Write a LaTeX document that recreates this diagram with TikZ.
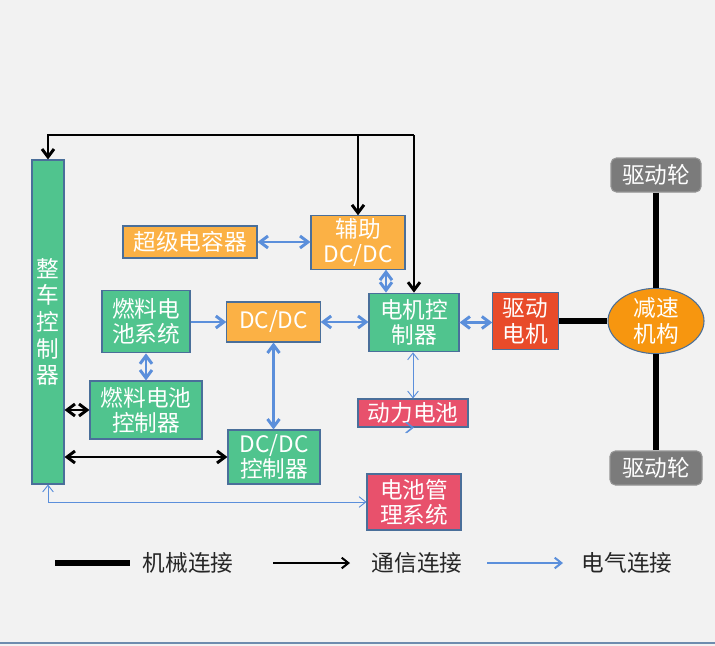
\documentclass[tikz,border=0pt]{standalone}
\usepackage{fontspec}
\setmainfont{Noto Sans CJK SC}
\usepackage{tikz}
\usetikzlibrary{arrows.meta,shapes,positioning,calc}
\definecolor{bgc}{HTML}{F2F2F2}
\definecolor{boxg}{HTML}{50C48E}
\definecolor{boxo}{HTML}{FBB145}
\definecolor{boxr}{HTML}{E84B2A}
\definecolor{boxp}{HTML}{E8516C}
\definecolor{gearo}{HTML}{F7960F}
\definecolor{wheelg}{HTML}{7B7B7B}
\definecolor{edgec}{HTML}{4A6F9A}
\definecolor{elecc}{HTML}{5B8FDB}
\tikzset{
  box/.style={draw=edgec, line width=0.8pt, text=white, align=center, inner sep=0pt,
    font=\fontsize{17}{19}\selectfont},
  gbox/.style={box, fill=boxg},
  obox/.style={box, fill=boxo},
  rbox/.style={box, fill=boxr},
  pbox/.style={box, fill=boxp},
  wheel/.style={box, fill=wheelg, draw=wheelg!80!white, rounded corners=4pt},
  mech/.style={line width=5pt, black},
  comm/.style={line width=2.2pt, black, -{Straight Barb[length=6pt,width=9pt]}},
  commboth/.style={comm, {Straight Barb[length=6pt,width=9pt]}-{Straight Barb[length=6pt,width=9pt]}},
  elec/.style={line width=2.2pt, elecc, {Straight Barb[length=6pt,width=9pt]}-{Straight Barb[length=6pt,width=9pt]}},
  elecone/.style={line width=2.2pt, elecc, -{Straight Barb[length=6pt,width=9pt]}},
  electhin/.style={line width=0.7pt, elecc, {Straight Barb[length=5pt,width=8pt]}-{Straight Barb[length=5pt,width=8pt]}},
  legtext/.style={font=\fontsize{17}{19}\selectfont, text=black!85}
}

\begin{document}
\begin{tikzpicture}[x=0.75pt, y=-0.75pt]
  % Canvas
  \fill[bgc] (0,0) rectangle (715,646);
  \useasboundingbox (0,0) rectangle (715,646);
  \draw[edgec!80!white, line width=1.2pt] (0,643) -- (715,643);

  % Boxes
  \node[gbox, minimum width=24pt, minimum height=243pt] (vcu) at (48,322)
    {整\\[1pt]车\\[1pt]控\\[1pt]制\\[1pt]器};
  \node[obox, minimum width=100.5pt, minimum height=24pt] (supcap) at (190,242) {超级电容器};
  \node[obox, minimum width=70.5pt, minimum height=40pt] (auxdc) at (358,242.5) {辅助\\DC/DC};
  \node[gbox, minimum width=66pt, minimum height=47pt] (fcsys) at (146,321.5) {燃料电\\池系统};
  \node[obox, minimum width=70pt, minimum height=30pt] (dcdc) at (273.5,322) {DC/DC};
  \node[gbox, minimum width=67.5pt, minimum height=44pt] (mcu) at (414,322.5) {电机控\\制器};
  \node[rbox, minimum width=49pt, minimum height=43pt] (motor) at (525.5,321) {驱动\\电机};
  \node[ellipse, box, fill=gearo, minimum width=72pt, minimum height=42pt] (gear) at (656,321) {减速\\机构};
  \node[wheel, minimum width=67.5pt, minimum height=25.5pt] (wheeltop) at (656,175) {驱动轮};
  \node[wheel, minimum width=69pt, minimum height=25.5pt] (wheelbot) at (656,468) {驱动轮};
  \node[gbox, minimum width=84pt, minimum height=43.5pt] (fcctl) at (146,410) {燃料电池\\控制器};
  \node[gbox, minimum width=69pt, minimum height=40.5pt] (dcctl) at (274,457) {DC/DC\\控制器};
  \node[pbox, minimum width=82.5pt, minimum height=21pt] (batt) at (413,413) {动力电池};
  \node[pbox, minimum width=70.5pt, minimum height=42pt] (bms) at (414,502) {电池管\\理系统};

  % Mechanical links
  \draw[mech] (wheeltop.south) -- (gear.north);
  \draw[mech] (gear.south) -- (wheelbot.north);
  \draw[mech] (motor.east) -- (gear.west);

  % Communication links
  \coordinate (tl) at (48,135);
  \coordinate (tr) at (414,135);
  \draw[comm] (tr) -- (tl) -- (vcu.north);
  \draw[comm] (tr) -- (mcu.north);
  \draw[comm] (auxdc.north |- tl) -- (auxdc.north);
  \draw[commboth] (vcu.east |- fcctl.west) -- (fcctl.west);
  \draw[commboth] (vcu.east |- dcctl.west) -- (dcctl.west);

  % Electrical links
  \draw[elec] (supcap.east) -- (supcap.east -| auxdc.west);
  \draw[elec] ([xshift=21pt]auxdc.south) -- ([xshift=21pt]auxdc.south |- mcu.north);
  \draw[elecone] (fcsys.east |- dcdc.west) -- (dcdc.west);
  \draw[elec] (dcdc.east) -- (dcdc.east -| mcu.west);
  \draw[elec] (mcu.east) -- (mcu.east -| motor.west);
  \draw[elec] (fcsys.south) -- (fcsys.south |- fcctl.north);
  \draw[elec] (dcdc.south) -- (dcdc.south |- dcctl.north);
  \draw[electhin] (mcu.south -| batt.north) -- (batt.north);
  \draw[electhin] (batt.south) -- (batt.south -| bms.north);
  \draw[electhin] (vcu.south) |- (bms.west);

  % Legend
  \coordinate (m1) at (55,563);
  \coordinate (m2) at (130,563);
  \coordinate (c1) at (273,563);
  \coordinate (c2) at (350,563);
  \coordinate (e1) at (487,563);
  \coordinate (e2) at (563,563);
  \draw[line width=4.5pt, black] (m1) -- (m2);
  \draw[line width=1.5pt, black, -{Straight Barb[length=5pt,width=8pt]}] (c1) -- (c2);
  \draw[line width=1.5pt, elecc, -{Straight Barb[length=5pt,width=8pt]}] (e1) -- (e2);
  \node[legtext, anchor=west] (lmech) at (138,563) {机械连接};
  \node[legtext, anchor=west] (lcomm) at (367,563) {通信连接};
  \node[legtext, anchor=west] (lelec) at (577,563) {电气连接};
\end{tikzpicture}
\end{document}
